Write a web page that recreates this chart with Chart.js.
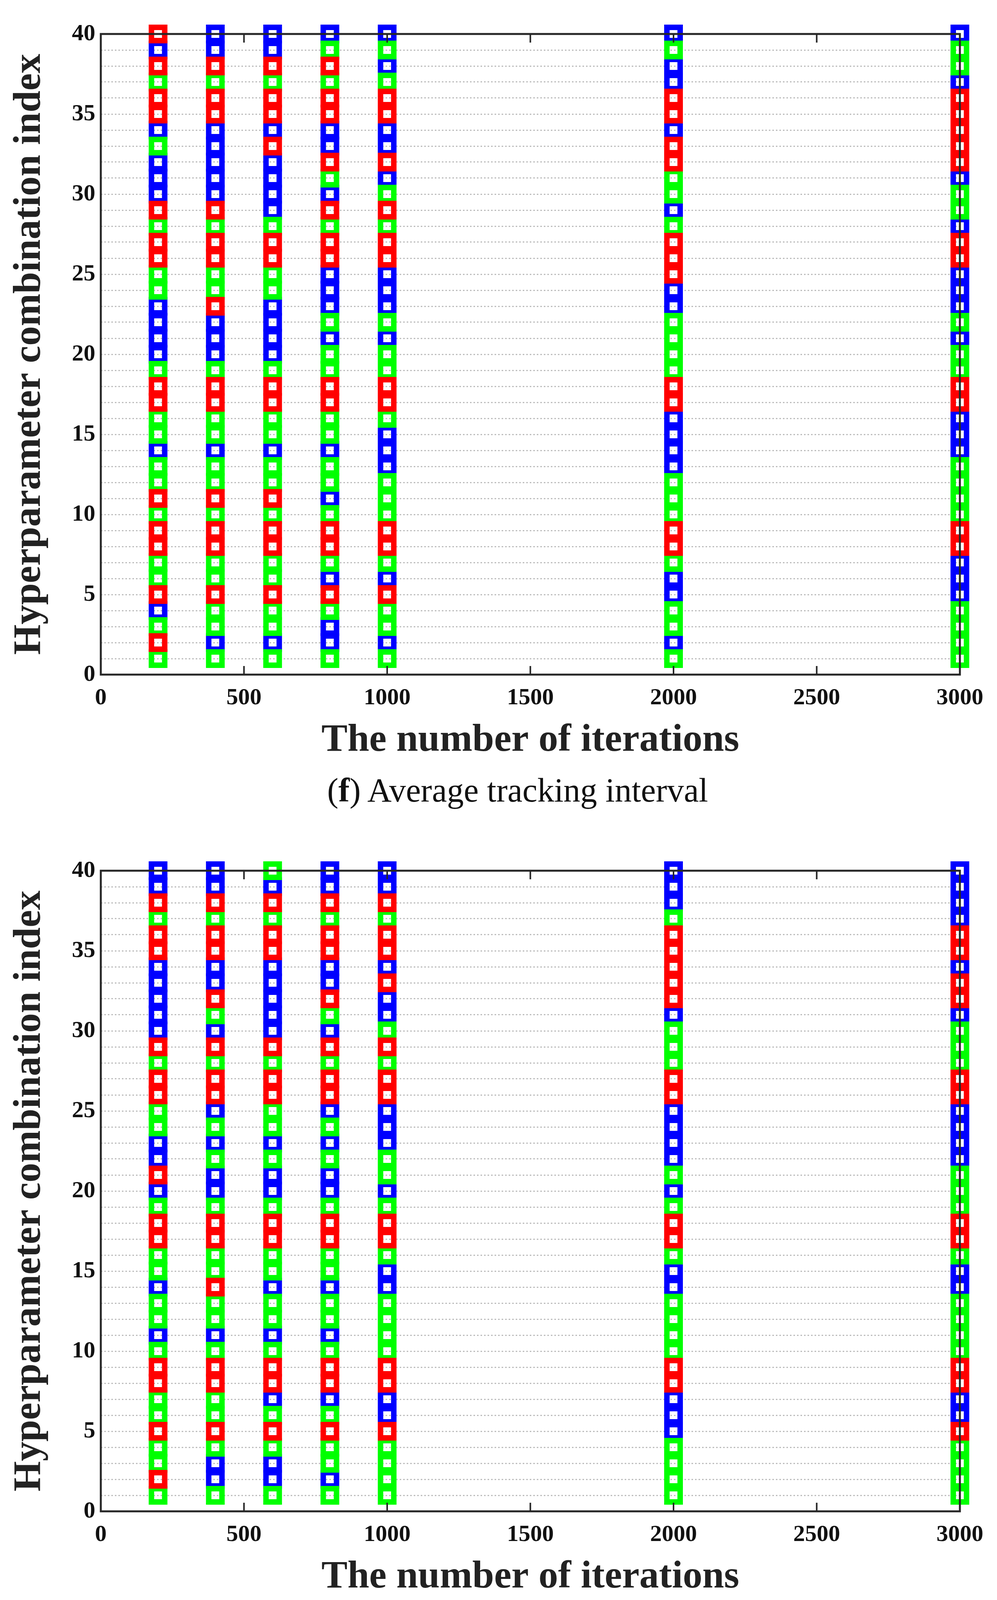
<!DOCTYPE html>
<html>
<head>
<meta charset="utf-8">
<script src="https://cdn.jsdelivr.net/npm/chart.js@4.4.0/dist/chart.umd.min.js"></script>
<style>
  body { margin: 0; background: #fff; width: 2552px; height: 4246px; position: relative; overflow: hidden; }
  .panel { position: absolute; left: 0; width: 2552px; height: 1960px; }
  .caption { position: absolute; left: 0; width: 2650px; text-align: center; font-family: "Liberation Serif", serif; font-size: 86px; color: #111; line-height: 1; }
</style>
</head>
<body>
<div class="panel" style="top:0"><canvas id="avgChart" width="2552" height="1960"></canvas></div>
<div class="caption" style="top:1980px">(<b>f</b>) Average tracking interval</div>
<div class="panel" style="top:2142px"><canvas id="minChart" width="2552" height="1960"></canvas></div>
<div class="caption" style="top:4122px">(<b>g</b>) Minimum tracking interval</div>
<script>
// iteration counts on the x axis
const iterations = [200, 400, 600, 800, 1000, 2000, 3000];

// colour of each marker, one string per iteration column,
// read from index 40 (first char) down to index 1 (last char)
const avgColumns = [
  "RBRGRRBGBBBRGRRGGBBB" + "BGRRGGBGGRGRRGGRBGRG",
  "BBRGRRBBBBBRGRRGGRBB" + "BGRRGGBGGRGRRGGRGGBG",
  "BBRGRRBRBBBBGRRGGBBB" + "BGRRGGBGGRGRRGGRGGBG",
  "BGRGRRBBRGBRGRRBBBGB" + "GGRRGGBGGBGRRGBRGBBG",
  "BGBGRRBBRBGRGRRBBBGB" + "GGRRGBBBGGGRRGBRGGBG",
  "BGBBRRBRRGGBGRRRBBGG" + "GGRRBBBBGGGRRGBBGGBG",
  "BGGBRRRRRBGGBRRBBBGB" + "GGRRBBBGGGGRRBBBGGGG"
];
const minColumns = [
  "BBRGRRBBBBBRGRRGGBBR" + "BGRRGGBGGBGRRGGRGGRG",
  "BBRGRRBBRGBRGRRBGBGB" + "BGRRGGRGGBGRRGGRGBBG",
  "GBRGRRBBBBBRGRRGGBGB" + "BGRRGGBGGBGRRBGRGBBG",
  "BBRGRRBBRGBRGRRBGBGB" + "BGRRGGBGGBGRRBGRGGBG",
  "BBRGRRBRBBGRGRRBBBGG" + "BGRRGBBGGGGRRBBRGGGG",
  "BBBGRRRRRBGGGRRBBBBG" + "BGRRGBBGGGGRRBBBGGGG",
  "BBBBRRBRRBGGGRRBBBBG" + "GGRRGBBGGGGRRBBRGGGG"
];

const indexMax = 40;
const colourOf = { R: '#ff0000', G: '#00ff00', B: '#0000ff' };

function buildDatasets(columns) 
{
    const sets = ['R', 'G', 'B'].map(key => ({
      type: 'scatter',
      data: [],
      pointStyle: 'rect',
      pointRadius: 24,
      pointHoverRadius: 24,
      pointBorderWidth: 14,
      borderColor: colourOf[key],
      backgroundColor: 'rgba(0,0,0,0)',
      showLine: false,
      clip: false,
      key: key
    }));
    columns.forEach((col, c) => 
    {
      for (let i = 0; i < col.length; i++) 
      {
        const set = sets.find(s => s.key === col[i]);
        set.data.push({ x: iterations[c], y: indexMax - i });
      }
    });
    return sets;
}

const boxPlugin = {
  id: 'box',
  afterDatasetsDraw(chart) 
  {
    const a = chart.chartArea;
    const ctx = chart.ctx;
    ctx.save();
    ctx.strokeStyle = '#262626';
    ctx.lineWidth = 5;
    ctx.strokeRect(a.left, a.top, a.right - a.left, a.bottom - a.top);
    // inward ticks on the x axis, as in the original
    const xs = chart.scales.x;
    ctx.lineWidth = 4;
    for (let v = 0; v <= 3000; v += 500) 
    {
      const px = xs.getPixelForValue(v);
      ctx.beginPath();
      ctx.moveTo(px, a.bottom); ctx.lineTo(px, a.bottom - 22);
      ctx.moveTo(px, a.top); ctx.lineTo(px, a.top + 22);
      ctx.stroke();
    }
    ctx.restore();
  }
};

function makeChart(id, columns) 
{
    const tickFont = { family: 'Liberation Serif', size: 60, weight: 'bold' };
    const titleFont = { family: 'Liberation Serif', size: 100, weight: 'bold' };
    new Chart(document.getElementById(id), 
    {
      type: 'scatter',
      data: { datasets: buildDatasets(columns) },
      options: 
      {
        responsive: false,
        devicePixelRatio: 1,
        animation: false,
        events: [],
        layout: { padding: { top: 87, right: 95, left: 12, bottom: 0 } },
        plugins: { legend: { display: false }, tooltip: { enabled: false } },
        scales: 
        {
          x: {
            type: 'linear', min: 0, max: 3000,
            ticks: { stepSize: 500, color: '#111', font: tickFont, padding: 16, maxRotation: 0,
                     callback: v => String(v) },
            grid: { display: false },
            border: { display: false },
            title: { display: true, text: 'The number of iterations', color: '#222', font: titleFont, padding: { top: 4 } },
            afterFit: scale => { scale.height = 233; }
          },
          y: {
            type: 'linear', min: 0, max: indexMax,
            ticks: { stepSize: 1, autoSkip: false, color: '#111', font: tickFont, padding: 14,
                     callback: v => (v % 5 === 0 ? String(v) : '') },
            grid: { color: '#bdbdbd', lineWidth: 3, drawTicks: false },
            border: { display: false, dash: [4, 5] },
            title: { display: true, text: 'Hyperparameter combination index', color: '#222', font: titleFont, padding: { bottom: 0 } },
            afterFit: scale => { scale.width = 246; }
          }
        }
      },
      plugins: [boxPlugin]
    });
}

makeChart('avgChart', avgColumns);
makeChart('minChart', minColumns);
</script>
</body>
</html>
